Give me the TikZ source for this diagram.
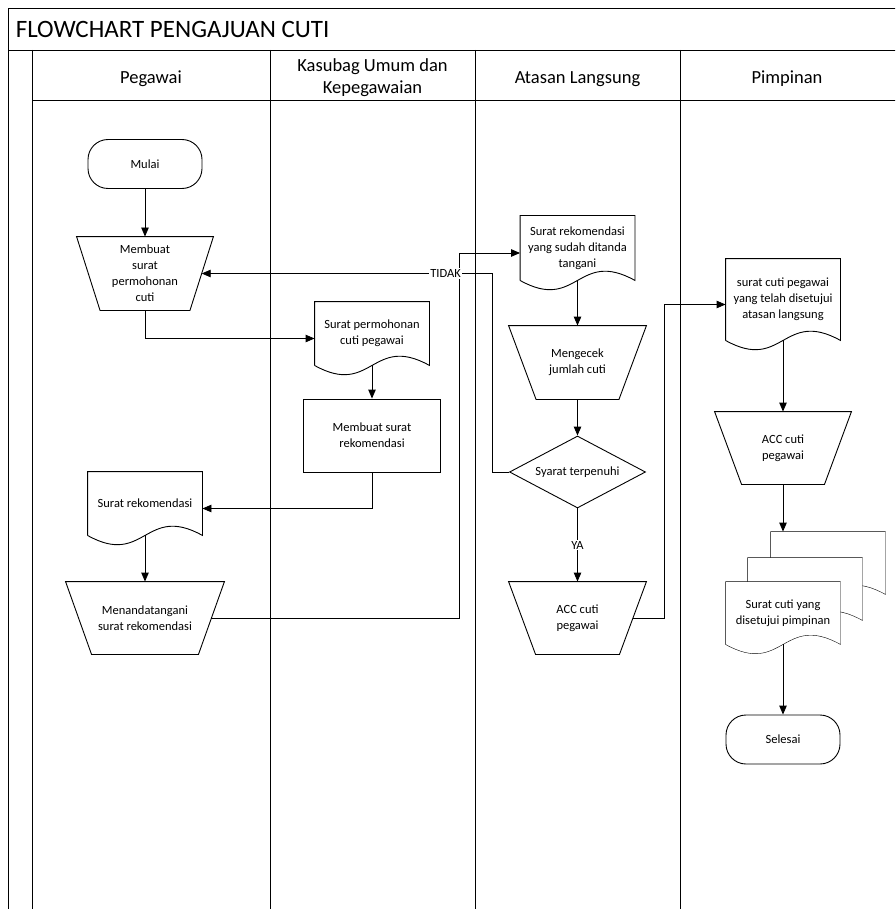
\documentclass[tikz,border=0pt]{standalone}
\usepackage{fontspec}
\setmainfont{Carlito}
\usetikzlibrary{arrows.meta,backgrounds,shapes.geometric}

\tikzset{
  terminal/.style={draw, rectangle, rounded corners=20pt, minimum width=114pt, minimum height=49pt, align=center},
  manop/.style={rectangle, minimum width=137pt, minimum height=73pt, inner sep=0pt, align=center},
  process/.style={draw, rectangle, minimum width=137pt, minimum height=73pt, align=center},
  decision/.style={draw, diamond, aspect=1.9, minimum width=136pt, minimum height=72pt, inner sep=0pt, align=center},
  doc/.style={rectangle, minimum width=114pt, minimum height=63pt, inner sep=0pt, align=center},
  lbl/.style={fill=white, inner sep=1pt},
  lane/.style={font=\fontsize{18.5}{22}\selectfont, align=center}
}

% manual operation outline, #2 = inset of the bottom corners
\newcommand{\manshape}[2]{%
  \draw (#1.north west) -- (#1.north east) -- ([xshift=-#2]#1.south east) -- ([xshift=#2]#1.south west) -- cycle;}

% document sheet with wavy bottom, #2 = shift of the sheet
\newcommand{\docpage}[3][]{%
  \draw[#1] ([shift={#2}]#3.south west) -- ([shift={#2}]#3.north west) -- ([shift={#2}]#3.north east) -- ([shift={#2}]#3.south east)
    .. controls ([shift={#2},yshift=32pt]#3.south) and ([shift={#2},yshift=-32pt]#3.south) .. ([shift={#2}]#3.south west);}

\begin{document}
\begin{tikzpicture}[x=1pt, y=1pt, line width=0.9pt, >={Triangle[length=9pt,width=7.5pt]}, font=\fontsize{12.5}{16}\selectfont]
	\useasboundingbox (0,0) rectangle (895,-909);
	\begin{scope}
		\clip (0,0) rectangle (895,-909);
		\draw (8,-920) -- (8,-8) -- (910,-8);
		\draw (8,-50) -- (910,-50);
		\draw (32,-50) -- (32,-920);
		\draw (32,-100) -- (910,-100);
		\foreach \x in {270,475,680}
			\draw (\x,-50) -- (\x,-920);
	\end{scope}
	\node[anchor=west, font=\fontsize{25}{30}\selectfont] (title) at (12,-29) {FLOWCHART PENGAJUAN CUTI};
	\node[lane] (lpegawai) at (151,-79) {Pegawai};
	\node[lane] (lkasubag) at (372.5,-78) {Kasubag Umum dan\\Kepegawaian};
	\node[lane] (latasan) at (577.5,-79) {Atasan Langsung};
	\node[lane] (lpimpinan) at (787,-79) {Pimpinan};

	% Pegawai
	\node[terminal] (mulai) at (145,-164) {Mulai};
	\node[manop, minimum width=136pt] (mohon) at (145,-273.5) {Membuat\\surat\\permohonan\\cuti};
	\manshape{mohon}{23.5pt}
	\node[doc] (rekom) at (145,-503.5) {Surat rekomendasi};
	\docpage{(0,0)}{rekom}
	\node[manop, minimum width=158pt, minimum height=72pt] (ttdsurat) at (145,-618) {Menandatangani\\surat rekomendasi};
	\manshape{ttdsurat}{26pt}

	% Kasubag
	\node[doc] (permohonan) at (372,-333.5) {Surat permohonan\\cuti pegawai};
	\docpage{(0,0)}{permohonan}
	\node[process] (buatrekom) at (372,-435.5) {Membuat surat\\rekomendasi};

	% Atasan
	\node[doc, minimum height=64pt] (rekomttd) at (577.5,-248) {Surat rekomendasi\\yang sudah ditanda\\tangani};
	\docpage{(0,0)}{rekomttd}
	\node[manop] (cek) at (577.5,-362.5) {Mengecek\\jumlah cuti};
	\manshape{cek}{27.5pt}
	\node[decision] (syarat) at (577.5,-472) {Syarat terpenuhi};
	\node[manop, minimum height=72pt] (accatasan) at (577.5,-618) {ACC cuti\\pegawai};
	\manshape{accatasan}{27pt}

	% Pimpinan
	\node[doc, minimum height=81pt] (cutiatasan) at (783,-299.5) {surat cuti pegawai\\yang telah disetujui\\atasan langsung};
	\docpage{(0,0)}{cutiatasan}
	\node[manop, minimum width=136pt, minimum height=72pt] (accpimpinan) at (783,-448) {ACC cuti\\pegawai};
	\manshape{accpimpinan}{27pt}
	\node[doc, minimum height=62pt] (cutipimpinan) at (783,-613) {Surat cuti yang\\disetujui pimpinan};
	\begin{scope}[on background layer]
		\docpage[fill=white]{(45,50)}{cutipimpinan}
		\docpage[fill=white]{(22,24)}{cutipimpinan}
		\docpage[fill=white]{(0,0)}{cutipimpinan}
	\end{scope}
	\node[terminal] (selesai) at (783,-739.5) {Selesai};

	\draw[->] (mulai) -- (mohon);
	\draw[->] (mohon.south) |- ([yshift=-5pt]permohonan.west);
	\draw[->] (permohonan.south) -- (buatrekom);
	\draw[->] (buatrekom.south) |- ([yshift=-5pt]rekom.east);
	\draw[->] (rekom.south) -- (ttdsurat);
	\draw[->] ([xshift=-13pt]ttdsurat.east) -- ++(248,0) |- ([yshift=-5pt]rekomttd.west);
	\draw[->] (rekomttd.south) -- (cek);
	\draw[->] (cek) -- (syarat);
	\draw[->] (syarat.west) -- ++(-17,0) |- node[pos=0.58, lbl] {TIDAK} ([xshift=-11.75pt]mohon.east);
	\draw[->] (syarat) -- node[lbl] {YA} (accatasan);
	\draw[->] ([xshift=-13.5pt]accatasan.east) -- ++(31,0) |- ([yshift=-5pt]cutiatasan.west);
	\draw[->] (cutiatasan.south) -- (accpimpinan);
	\draw[->] (accpimpinan.south) -- ([yshift=50pt]cutipimpinan.north);
	\draw[->] (cutipimpinan.south) -- (selesai);
\end{tikzpicture}
\end{document}
